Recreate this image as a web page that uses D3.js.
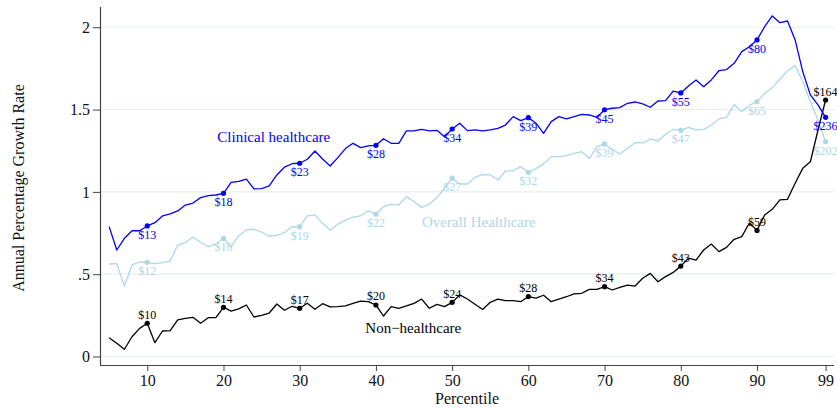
<!DOCTYPE html>
<html>
<head>
<meta charset="utf-8">
<script src="https://cdn.jsdelivr.net/npm/d3@7"></script>
<style>
  body { margin: 0; background: #fff; }
  text { font-family: "Liberation Serif", "DejaVu Serif", serif; }
</style>
</head>
<body>
<script>
// percentiles 5..99
var percentiles = [];
for (var p = 5; p <= 99; p++) percentiles.push(p);

var clinical = [
    0.789, 0.647, 0.718, 0.764, 0.764, 0.793, 0.813, 0.854, 0.866, 0.884,
    0.920, 0.932, 0.965, 0.977, 0.981, 0.991, 1.058, 1.064, 1.078, 1.018,
    1.020, 1.036, 1.103, 1.150, 1.171, 1.174, 1.198, 1.248, 1.200, 1.157,
    1.208, 1.263, 1.295, 1.269, 1.279, 1.283, 1.323, 1.295, 1.295, 1.370,
    1.370, 1.380, 1.370, 1.374, 1.335, 1.382, 1.417, 1.372, 1.376, 1.370,
    1.376, 1.386, 1.406, 1.457, 1.433, 1.451, 1.417, 1.356, 1.427, 1.457,
    1.443, 1.457, 1.471, 1.467, 1.453, 1.499, 1.508, 1.512, 1.538, 1.546,
    1.534, 1.514, 1.552, 1.554, 1.612, 1.601, 1.643, 1.680, 1.639, 1.680,
    1.736, 1.743, 1.781, 1.852, 1.882, 1.923, 2.004, 2.069, 2.028, 2.038,
    1.923, 1.730, 1.589, 1.528, 1.453
];

var overall = [
    0.562, 0.564, 0.428, 0.556, 0.574, 0.572, 0.564, 0.570, 0.580, 0.677,
    0.692, 0.724, 0.694, 0.667, 0.683, 0.718, 0.667, 0.734, 0.769, 0.773,
    0.755, 0.732, 0.736, 0.752, 0.789, 0.788, 0.854, 0.860, 0.809, 0.769,
    0.803, 0.829, 0.846, 0.854, 0.886, 0.864, 0.910, 0.926, 0.920, 0.971,
    0.940, 0.906, 0.926, 0.965, 1.022, 1.083, 1.048, 1.048, 1.089, 1.105,
    1.103, 1.072, 1.127, 1.127, 1.153, 1.119, 1.141, 1.170, 1.214, 1.214,
    1.220, 1.234, 1.244, 1.204, 1.275, 1.291, 1.259, 1.230, 1.265, 1.299,
    1.297, 1.320, 1.309, 1.350, 1.380, 1.374, 1.392, 1.376, 1.380, 1.406,
    1.443, 1.453, 1.530, 1.487, 1.526, 1.548, 1.599, 1.633, 1.684, 1.736,
    1.767, 1.670, 1.548, 1.437, 1.305
];

var nonHealth = [
    0.114, 0.080, 0.044, 0.120, 0.171, 0.202, 0.084, 0.155, 0.157, 0.222,
    0.232, 0.238, 0.202, 0.236, 0.236, 0.299, 0.276, 0.289, 0.313, 0.240,
    0.250, 0.264, 0.319, 0.281, 0.305, 0.293, 0.324, 0.287, 0.321, 0.301,
    0.303, 0.307, 0.323, 0.337, 0.333, 0.313, 0.246, 0.303, 0.293, 0.307,
    0.323, 0.349, 0.293, 0.317, 0.303, 0.329, 0.374, 0.349, 0.317, 0.285,
    0.329, 0.348, 0.339, 0.339, 0.333, 0.364, 0.355, 0.372, 0.333, 0.349,
    0.363, 0.380, 0.384, 0.408, 0.408, 0.424, 0.404, 0.420, 0.434, 0.428,
    0.475, 0.505, 0.454, 0.485, 0.511, 0.549, 0.597, 0.586, 0.647, 0.683,
    0.637, 0.663, 0.712, 0.728, 0.811, 0.766, 0.860, 0.894, 0.951, 0.955,
    1.052, 1.143, 1.183, 1.376, 1.558
];

var markedPercentiles = [10, 20, 30, 40, 50, 60, 70, 80, 90, 99];
var clinicalDollars = ['$13', '$18', '$23', '$28', '$34', '$39', '$45', '$55', '$80', '$236'];
var overallDollars = ['$12', '$16', '$19', '$22', '$27', '$32', '$39', '$47', '$65', '$202'];
var nonHealthDollars = ['$10', '$14', '$17', '$20', '$24', '$28', '$34', '$43', '$59', '$164'];

var xTicks = [10, 20, 30, 40, 50, 60, 70, 80, 90, 99];
var yTicks = [0, 0.5, 1, 1.5, 2];
var yTickLabels = ['0', '.5', '1', '1.5', '2'];

var w = 837, h = 408;

var svg = d3.select('body').append('svg')
    .attr('width', w)
    .attr('height', h);

var x = d3.scaleLinear().domain([3.8, 100.1]).range([100, 834]);
var y = d3.scaleLinear().domain([-0.0516, 2.123]).range([365, 7]);

// grid
svg.append('g').selectAll('line')
    .data(yTicks)
    .enter().append('line')
    .attr('x1', x.range()[0]).attr('x2', x.range()[1])
    .attr('y1', function (d) { return y(d); })
    .attr('y2', function (d) { return y(d); })
    .attr('stroke', '#e6eff1')
    .attr('stroke-width', 1.2);

// axes
var yAxis = d3.axisLeft(y)
    .tickValues(yTicks)
    .tickFormat(function (d, i) { return yTickLabels[i]; })
    .tickSize(7)
    .tickPadding(3);
var xAxis = d3.axisBottom(x)
    .tickValues(xTicks)
    .tickSize(6)
    .tickPadding(4);

var gy = svg.append('g').attr('transform', 'translate(100,0)').call(yAxis);
var gx = svg.append('g').attr('transform', 'translate(0,365)').call(xAxis);
[gx, gy].forEach(function (g) {
    g.select('.domain').attr('stroke', '#444').attr('stroke-width', 1.2);
    g.selectAll('.tick line').attr('stroke', '#444');
    g.selectAll('.tick text')
        .attr('fill', '#111')
        .style('font-family', '"Liberation Serif", serif')
        .style('font-size', '16px');
});
gx.select('.domain').attr('d', 'M100,0.5H834');
gy.select('.domain').attr('d', 'M0.5,7V365');

svg.append('text')
    .attr('x', 467).attr('y', 404)
    .attr('text-anchor', 'middle')
    .style('font-size', '16px')
    .attr('fill', '#111')
    .text('Percentile');

svg.append('text')
    .attr('transform', 'translate(24,188) rotate(-90)')
    .attr('text-anchor', 'middle')
    .style('font-size', '16px')
    .attr('fill', '#111')
    .text('Annual Percentage Growth Rate');

var series = [
    { name: 'Overall Healthcare', values: overall, dollars: overallDollars, color: '#add8e6', below: true, lx: 53.5, ly: 0.784 },
    { name: 'Non\u2212healthcare', values: nonHealth, dollars: nonHealthDollars, color: '#000000', below: false, lx: 44.9, ly: 0.143 },
    { name: 'Clinical healthcare', values: clinical, dollars: clinicalDollars, color: '#0000ff', below: true, lx: 26.6, ly: 1.303 }
];

var line = d3.line()
    .x(function (d) { return x(d.p); })
    .y(function (d) { return y(d.v); });

series.forEach(function (s) {
    var pts = percentiles.map(function (p, i) { return { p: p, v: s.values[i] }; });
    var g = svg.append('g');

    g.append('path')
        .datum(pts)
        .attr('d', line)
        .attr('fill', 'none')
        .attr('stroke', s.color)
        .attr('stroke-width', 1.3)
        .attr('stroke-linejoin', 'round');

    var marks = markedPercentiles.map(function (p, i) {
        return { p: p, v: s.values[percentiles.indexOf(p)], label: s.dollars[i] };
    });

    g.selectAll('circle')
        .data(marks)
        .enter().append('circle')
        .attr('cx', function (d) { return x(d.p); })
        .attr('cy', function (d) { return y(d.v); })
        .attr('r', 2.6)
        .attr('fill', s.color);

    g.selectAll('text.dollar')
        .data(marks)
        .enter().append('text')
        .attr('class', 'dollar')
        .attr('x', function (d) { return x(d.p); })
        .attr('y', function (d) { return y(d.v) + (s.below ? 13 : -4.5); })
        .attr('text-anchor', 'middle')
        .style('font-size', '12px')
        .attr('fill', s.color)
        .text(function (d) { return d.label; });

    g.append('text')
        .attr('x', x(s.lx))
        .attr('y', y(s.ly))
        .attr('text-anchor', 'middle')
        .style('font-size', '15px')
        .attr('fill', s.color)
        .text(s.name);
});
</script>
</body>
</html>
